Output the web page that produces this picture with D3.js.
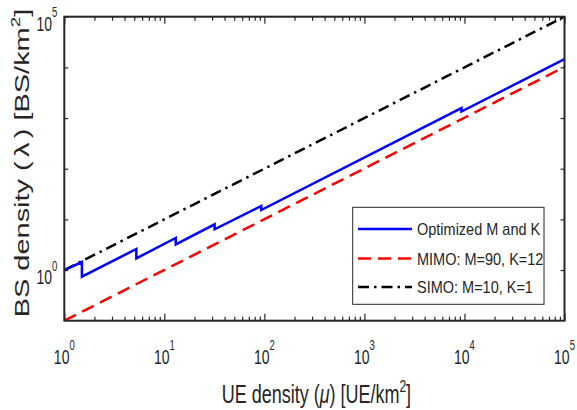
<!DOCTYPE html>
<html>
<head>
<meta charset="utf-8">
<script src="https://cdn.jsdelivr.net/npm/d3@7"></script>
<style>
  body { margin: 0; background: #fff; }
  text { font-family: "Liberation Sans", Arial, Helvetica, sans-serif; fill: #262626; }
</style>
</head>
<body>
<div id="chart"></div>
<script>
// values
var xTickExps = [0, 1, 2, 3, 4, 5];
var yTickExps = [0, 1, 2, 3, 4, 5];
var yLabelExps = [0, 5];

var simoMu = [1, 1e5];
var simoLambda = [1, 1e5];

var mimoMu = [1, 1e5];
var mimoLambda = [0.1, 1.02e4];

// optimized M and K: rises, then drops when config changes
var optMu = [1, 1.5, 1.5, 5.25, 5.25, 13, 13, 31.8, 31.8, 93, 93, 9330, 9330, 1e5];
var optLambda = [1, 1.44, 0.74, 2.6, 1.7, 4.3, 3.2, 8.0, 6.37, 18.4, 15.3, 1570, 1343, 14600];

var legendNames = ["Optimized M and K", "MIMO: M=90, K=12", "SIMO: M=10, K=1"];

var svgWidth = 577, svgHeight = 410;
var margin = { top: 16.7, right: 12.5, bottom: 89.3, left: 64.3 };
var width = svgWidth - margin.left - margin.right;
var height = svgHeight - margin.top - margin.bottom;

var svg = d3.select("#chart").append("svg")
  .attr("width", svgWidth)
  .attr("height", svgHeight);

var chartGroup = svg.append("g")
  .attr("transform", `translate(${margin.left}, ${margin.top})`);

var xScale = d3.scaleLog().domain([1, 1e5]).range([0, width]);
var yScale = d3.scaleLog().domain([0.1, 1e5]).range([height, 0]);

var majorX = xTickExps.map(e => Math.pow(10, e));
var minorX = [];
for (var k = 0; k < 5; k++) {
  for (var m = 2; m <= 9; m++) minorX.push(m * Math.pow(10, k));
}
var majorY = yTickExps.map(e => Math.pow(10, e));

function styleAxis(g) {
  g.select(".domain").remove();
  g.selectAll("line").attr("stroke", "#262626").attr("stroke-width", 1.2);
}

chartGroup.append("g").attr("transform", `translate(0, ${height})`)
  .call(d3.axisBottom(xScale).tickValues(majorX).tickSize(-7).tickFormat("")).call(styleAxis);
chartGroup.append("g").attr("transform", `translate(0, ${height})`)
  .call(d3.axisBottom(xScale).tickValues(minorX).tickSize(-4).tickFormat("")).call(styleAxis);
chartGroup.append("g")
  .call(d3.axisTop(xScale).tickValues(majorX).tickSize(-7).tickFormat("")).call(styleAxis);
chartGroup.append("g")
  .call(d3.axisTop(xScale).tickValues(minorX).tickSize(-4).tickFormat("")).call(styleAxis);
chartGroup.append("g")
  .call(d3.axisLeft(yScale).tickValues(majorY).tickSize(-4).tickFormat("")).call(styleAxis);
chartGroup.append("g").attr("transform", `translate(${width}, 0)`)
  .call(d3.axisRight(yScale).tickValues(majorY).tickSize(-4).tickFormat("")).call(styleAxis);

// tick labels 10^n
xTickExps.forEach(function(e) {
  var t = chartGroup.append("text")
    .attr("transform", `translate(${xScale(Math.pow(10, e))}, ${height + 43}) scale(1, 1.5)`)
    .attr("text-anchor", "middle")
    .attr("font-size", 14);
  t.append("tspan").text("10");
  t.append("tspan").attr("font-size", 9.5).attr("dy", -9).text(e);
});
yLabelExps.forEach(function(e) {
  var t = chartGroup.append("text")
    .attr("transform", `translate(-7, ${yScale(Math.pow(10, e)) + 14}) scale(1, 1.5)`)
    .attr("text-anchor", "end")
    .attr("font-size", 14);
  t.append("tspan").text("10");
  t.append("tspan").attr("font-size", 9.5).attr("dy", -9).text(e);
});

// lines
var line = d3.line()
  .x(d => xScale(d[0]))
  .y(d => yScale(d[1]));

chartGroup.append("path")
  .datum(d3.zip(mimoMu, mimoLambda))
  .attr("d", line)
  .attr("fill", "none")
  .attr("stroke", "#ff0000")
  .attr("stroke-width", 2.5)
  .attr("stroke-dasharray", "13,7");

chartGroup.append("path")
  .datum(d3.zip(simoMu, simoLambda))
  .attr("d", line)
  .attr("fill", "none")
  .attr("stroke", "#000")
  .attr("stroke-width", 2.5)
  .attr("stroke-dasharray", "11,5,2.5,5");

chartGroup.append("path")
  .datum(d3.zip(optMu, optLambda))
  .attr("d", line)
  .attr("fill", "none")
  .attr("stroke", "#0000ff")
  .attr("stroke-width", 2.5);

// frame
chartGroup.append("rect")
  .attr("width", width)
  .attr("height", height)
  .attr("fill", "none")
  .attr("stroke", "#262626")
  .attr("stroke-width", 2);

// axis titles
var xt = chartGroup.append("text")
  .attr("transform", `translate(${width / 2 + 2}, ${height + 82.3}) scale(1, 1.4)`)
  .attr("text-anchor", "middle")
  .attr("font-size", 18);
xt.append("tspan").text("UE density (");
xt.append("tspan").attr("font-style", "italic").text("\u03bc");
xt.append("tspan").text(") [UE/km");
xt.append("tspan").attr("font-size", 12).attr("dy", -8).text("2");
xt.append("tspan").attr("dy", 8).text("]");

var yt = chartGroup.append("text")
  .attr("text-anchor", "middle")
  .attr("font-size", 20);
yt.append("tspan").text("BS density (");
yt.append("tspan").attr("dx", 3).text("\u03bb");
yt.append("tspan").attr("dx", 3).text(") [BS/km");
yt.append("tspan").attr("font-size", 13).attr("dy", -9).text("2");
yt.append("tspan").attr("dy", 9).text("]");
var ytLen = yt.node().getComputedTextLength();
yt.attr("transform", `translate(${28.5 - margin.left}, ${163 - margin.top}) rotate(-90) scale(${300 / ytLen}, 1)`);

// legend
var legend = svg.append("g");
legend.append("rect")
  .attr("x", 352.7).attr("y", 207.3)
  .attr("width", 191.3).attr("height", 97)
  .attr("fill", "#fff")
  .attr("stroke", "#262626")
  .attr("stroke-width", 1);

var legendStyles = [
  { color: "#0000ff", dash: null },
  { color: "#ff0000", dash: "13,7" },
  { color: "#000", dash: "11,5,2.5,5" }
];
var legendRowsY = [229, 258.5, 287];
legendNames.forEach(function(name, i) {
  var ly = legendRowsY[i];
  legend.append("line")
    .attr("x1", 358).attr("x2", 412)
    .attr("y1", ly).attr("y2", ly)
    .attr("stroke", legendStyles[i].color)
    .attr("stroke-width", 2.5)
    .attr("stroke-dasharray", legendStyles[i].dash);
  legend.append("text")
    .attr("transform", `translate(417, ${ly + 6.3}) scale(1, 1.15)`)
    .attr("font-size", 14.5)
    .text(name);
});
</script>
</body>
</html>
